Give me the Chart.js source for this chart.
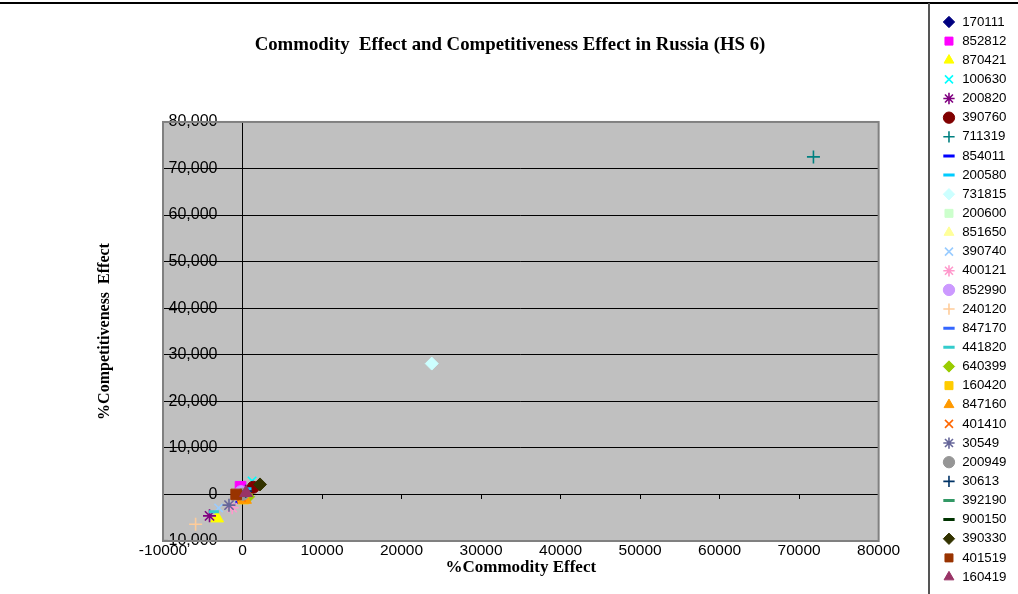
<!DOCTYPE html>
<html>
<head>
<meta charset="utf-8">
<title>Commodity Effect and Competitiveness Effect in Russia (HS 6)</title>
<script src="https://cdn.jsdelivr.net/npm/chart.js@4/dist/chart.umd.min.js"></script>
<style>
  html, body { margin: 0; padding: 0; background: #fff; }
  canvas { display: block; }
</style>
</head>
<body>
<canvas id="chart" width="1018" height="594"></canvas>
<script>
// HS 6 product codes, one scatter series each
const hsCodes = [
  '170111', '852812', '870421', '100630', '200820', '390760', '711319', '854011',
  '200580', '731815', '200600', '851650', '390740', '400121', '852990', '240120',
  '847170', '441820', '640399', '160420', '847160', '401410', '30549', '200949',
  '30613', '392190', '900150', '390330', '401519', '160419'
];

// % commodity effect (x) per product
const commodityEffect = [
  150, -250, -3200, 1200, -4150, 1350, 71800, -450,
  500, 23800, 80, -150, -3000, -1300, -200, -5900,
  -350, -3600, 700, 100, 300, -150, -1700, 50,
  400, 200, -100, 2200, -800, 450
];

// % competitiveness effect (y) per product
const competitivenessEffect = [
  250, 1650, -5100, 2900, -4600, 1550, 72500, -1750,
  1200, 28100, -300, 150, -2900, -2850, 600, -6400,
  -900, -3700, -500, -900, -1100, -600, -2300, 50,
  700, -200, 400, 2150, 0, 350
];

// axis ticks and their printed labels
const xTickValues = [-10000, 0, 10000, 20000, 30000, 40000, 50000, 60000, 70000, 80000];
const xTickLabels = ['-10000', '0', '10000', '20000', '30000', '40000', '50000', '60000', '70000', '80000'];
const yTickValues = [-10000, 0, 10000, 20000, 30000, 40000, 50000, 60000, 70000, 80000];
const yTickLabels = ['-10,000', '0', '10,000', '20,000', '30,000', '40,000', '50,000', '60,000', '70,000', '80,000'];

// y labels are anchored a little to the left of the zero line
const yLabelAnchor = -3150;

// marker appearance per series
const markerColors = [
  '#000080', '#FF00FF', '#FFFF00', '#00FFFF', '#800080', '#800000', '#008080', '#0000FF',
  '#00CCFF', '#CCFFFF', '#CCFFCC', '#FFFF99', '#99CCFF', '#FF99CC', '#CC99FF', '#FFCC99',
  '#3366FF', '#33CCCC', '#99CC00', '#FFCC00', '#FF9900', '#FF6600', '#666699', '#969696',
  '#003366', '#339966', '#003300', '#333300', '#993300', '#993366'
];
const markerShapes = [
  'rectRot', 'rect', 'triangle', 'crossRot', 'star', 'circle', 'cross', 'line',
  'line', 'rectRot', 'rect', 'triangle', 'crossRot', 'star', 'circle', 'cross',
  'line', 'line', 'rectRot', 'rect', 'triangle', 'crossRot', 'star', 'circle',
  'cross', 'line', 'line', 'rectRot', 'rect', 'triangle'
];
const shapeRadius = { rectRot: 6.5, rect: 7.5, triangle: 7.5, crossRot: 6, star: 6.5, circle: 6, cross: 6.5, line: 5 };
const shapeLine = { rectRot: 1, rect: 1, triangle: 1, crossRot: 1.6, star: 1.6, circle: 1, cross: 1.6, line: 3 };
const shortDash = new Set(['854011', '847170', '392190']);

const SERIF = "'Liberation Serif', 'Times New Roman', serif";
const SANS = "'Liberation Sans', Arial, sans-serif";

Chart.defaults.font.family = SANS;
Chart.defaults.color = '#000';

const datasets = hsCodes.map((code, i) => {
  const shape = markerShapes[i];
  return {
    label: code,
    data: [{ x: commodityEffect[i], y: competitivenessEffect[i] }],
    pointStyle: shape,
    pointRadius: shortDash.has(code) ? 3.5 : shapeRadius[shape],
    pointBackgroundColor: markerColors[i],
    pointBorderColor: markerColors[i],
    backgroundColor: markerColors[i],
    borderColor: markerColors[i],
    pointBorderWidth: shapeLine[shape],
    borderWidth: shapeLine[shape],
    order: hsCodes.length - i
  };
});

// grey plot area, border, and the outer frame lines
const framePlugin = {
  id: 'frame',
  beforeDraw(chart) {
    const { ctx, chartArea: a } = chart;
    ctx.save();
    ctx.fillStyle = '#fff';
    ctx.fillRect(0, 0, chart.width, chart.height);
    ctx.fillStyle = '#C0C0C0';
    ctx.fillRect(a.left, a.top, a.right - a.left, a.bottom - a.top);
    ctx.restore();
  },
  beforeDatasetsDraw(chart) {
    const { ctx, chartArea: a } = chart;
    ctx.save();
    ctx.strokeStyle = '#808080';
    ctx.lineWidth = 2;
    ctx.strokeRect(a.left, a.top, a.right - a.left, a.bottom - a.top);
    ctx.restore();
  },
  afterDraw(chart) {
    const { ctx } = chart;
    ctx.save();
    ctx.strokeStyle = '#000';
    ctx.lineWidth = 2;
    ctx.beginPath();
    ctx.moveTo(0, 3);
    ctx.lineTo(chart.width, 3);
    ctx.stroke();
    ctx.strokeStyle = '#555';
    ctx.beginPath();
    ctx.moveTo(929, 3);
    ctx.lineTo(929, chart.height);
    ctx.stroke();
    ctx.restore();
  }
};

const hiddenAxis = (pos, size, extra) => Object.assign({
  type: 'linear', axis: 'y', position: pos,
  ticks: { display: false },
  grid: { display: false, drawTicks: false },
  border: { display: false },
  afterFit: s => { s.width = size; }
}, extra || {});

new Chart(document.getElementById('chart'), {
  type: 'scatter',
  data: { datasets },
  plugins: [framePlugin],
  options: {
    responsive: false,
    devicePixelRatio: 1,
    animation: false,
    events: [],
    layout: { padding: { left: 3.5, right: 1.5, top: 5, bottom: 0 } },
    scales: {
      x: {
        type: 'linear', position: 'bottom', min: -10000, max: 80000,
        afterBuildTicks: s => { s.ticks = xTickValues.map(v => ({ value: v })); },
        ticks: { callback: (v, i) => xTickLabels[i], font: { size: 15.5 }, color: '#000', padding: 0, maxRotation: 0, autoSkip: false },
        grid: { display: false, drawTicks: false },
        border: { display: false },
        title: {
          display: true, text: '%Commodity Effect', color: '#000',
          font: { family: SERIF, size: 17, weight: 'bold' },
          padding: { top: 0, bottom: 15.8 }
        },
        afterFit: s => { s.height = 53; }
      },
      y: {
        type: 'linear', position: { x: 0 }, min: -10000, max: 80000,
        afterBuildTicks: s => { s.ticks = yTickValues.map(v => ({ value: v })); },
        ticks: { display: false },
        grid: { color: '#000', lineWidth: 1, drawTicks: true, tickLength: 9, tickColor: '#000' },
        border: { display: true, color: '#000', width: 1 }
      },
      yLabels: {
        type: 'linear', axis: 'y', position: { x: yLabelAnchor }, min: -10000, max: 80000,
        afterBuildTicks: s => { s.ticks = yTickValues.map(v => ({ value: v })); },
        ticks: { callback: (v, i) => yTickLabels[i], font: { size: 16 }, color: '#000', autoSkip: false },
        grid: { display: false, drawTicks: false },
        border: { display: false }
      },
      xZero: {
        type: 'linear', axis: 'x', position: { y: 0 }, min: -10000, max: 80000,
        afterBuildTicks: s => { s.ticks = xTickValues.map(v => ({ value: v })); },
        ticks: { display: false },
        grid: { drawOnChartArea: false, drawTicks: true, tickLength: 4, tickColor: '#000' },
        border: { display: true, color: '#000', width: 1 }
      },
      yTitleBand: hiddenAxis('left', 159.5, {
        title: {
          display: true, text: '%Competitiveness  Effect', color: '#000',
          font: { family: SERIF, size: 16, weight: 'bold' },
          padding: { top: 91.9, bottom: 0 }
        }
      }),
      legendGap: hiddenAxis('right', 58)
    },
    plugins: {
      title: {
        display: true,
        text: 'Commodity  Effect and Competitiveness Effect in Russia (HS 6)',
        color: '#000',
        font: { family: SERIF, size: 18.8, weight: 'bold' },
        padding: { top: 28.7, bottom: 65.7 }
      },
      legend: {
        position: 'right', align: 'center',
        labels: {
          usePointStyle: true, boxWidth: 13, boxHeight: 8, padding: 5.84,
          font: { size: 13.3 }, color: '#000',
          sort: (a, b) => a.datasetIndex - b.datasetIndex
        }
      },
      tooltip: { enabled: false }
    }
  }
});
</script>
</body>
</html>
